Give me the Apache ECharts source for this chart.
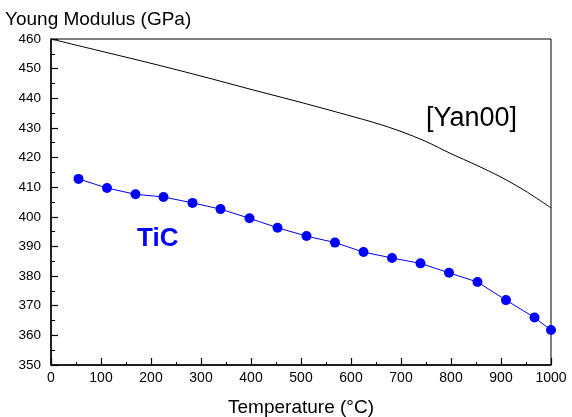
<!DOCTYPE html>
<html>
<head>
<meta charset="utf-8">
<script src="https://cdn.jsdelivr.net/npm/echarts@6/dist/echarts.min.js"></script>
<style>
  html, body { margin: 0; padding: 0; background: #fff; }
  #chart { width: 572px; height: 417px; }
</style>
</head>
<body>
<div id="chart"></div>
<script>
// TiC measured Young's modulus vs temperature
const ticTemp = [55, 112, 169, 225, 283, 339, 397, 453, 511, 568, 625, 682, 739, 796, 853, 910, 967, 1000];
const ticModulus = [412.8, 409.7, 407.6, 406.7, 404.7, 402.6, 399.5, 396.3, 393.5, 391.3, 388.1, 386.1, 384.3, 381.1, 378.0, 371.9, 366.0, 361.8];

// Literature curve [Yan00]
const yanTemp = [0, 100, 200, 300, 400, 500, 600, 650, 700, 750, 800, 850, 900, 950, 1000];
const yanModulus = [460.0, 455.9, 451.8, 447.5, 443.0, 438.6, 434.0, 431.6, 428.8, 425.4, 421.3, 417.5, 413.4, 408.6, 403.0];

const xTicks = [0, 100, 200, 300, 400, 500, 600, 700, 800, 900, 1000];
const yTicks = [350, 360, 370, 380, 390, 400, 410, 420, 430, 440, 450, 460];

const FONT = '"Liberation Sans", Arial, sans-serif';

const chart = echarts.init(document.getElementById('chart'), null, { renderer: 'canvas' });

chart.setOption({
  backgroundColor: '#ffffff',
  animation: false,
  textStyle: { fontFamily: FONT },
  title: {
    text: 'Young Modulus (GPa)',
    left: 0,
    top: 5,
    textStyle: { fontFamily: FONT, fontSize: 19, fontWeight: 'normal', color: '#000' }
  },
  grid: {
    left: 51, right: 21, top: 39, bottom: 52,
    outerBoundsMode: 'none',
    containLabel: false,
    show: true, borderColor: '#000', borderWidth: 1, backgroundColor: 'transparent'
  },
  xAxis: {
    type: 'value',
    min: xTicks[0],
    max: xTicks[xTicks.length - 1],
    interval: 100,
    name: 'Temperature (°C)',
    nameLocation: 'middle',
    nameGap: 33,
    nameTextStyle: { fontFamily: FONT, fontSize: 19, color: '#000' },
    axisLine: { lineStyle: { color: '#000', width: 1.5 } },
    axisTick: { inside: true, length: 7, lineStyle: { color: '#000', width: 1.2 } },
    minorTick: { show: true, splitNumber: 2, length: 3, lineStyle: { color: '#000', width: 1 } },
    axisLabel: { fontFamily: FONT, fontSize: 14, color: '#000', margin: 6, formatter: v => String(v) },
    splitLine: { show: false }
  },
  yAxis: {
    type: 'value',
    min: yTicks[0],
    max: yTicks[yTicks.length - 1],
    interval: 10,
    axisLine: { show: true, lineStyle: { color: '#000', width: 1.5 } },
    axisTick: { show: true, inside: true, length: 7, lineStyle: { color: '#000', width: 1.2 } },
    minorTick: { show: true, splitNumber: 2, length: 4, lineStyle: { color: '#000', width: 1 } },
    axisLabel: { fontFamily: FONT, fontSize: 13.5, color: '#000', margin: 10 },
    splitLine: { show: false }
  },
  graphic: [
    {
      type: 'text', left: 426, top: 105,
      style: { text: '[Yan00]', font: '27px ' + FONT, fill: '#000' }
    },
    {
      type: 'text', left: 137, top: 226,
      style: { text: 'TiC', font: 'bold 26px ' + FONT, fill: '#0000ff' }
    }
  ],
  series: [
    {
      name: '[Yan00]',
      type: 'line',
      data: yanTemp.map((t, i) => [t, yanModulus[i]]),
      smooth: 0.3,
      showSymbol: false,
      lineStyle: { color: '#000', width: 1 },
      z: 2
    },
    {
      name: 'TiC',
      type: 'line',
      data: ticTemp.map((t, i) => [t, ticModulus[i]]),
      symbol: 'circle',
      symbolSize: 10,
      itemStyle: { color: '#0000ff' },
      lineStyle: { color: '#0000ff', width: 1 },
      clip: false,
      z: 3
    }
  ]
});
</script>
</body>
</html>
